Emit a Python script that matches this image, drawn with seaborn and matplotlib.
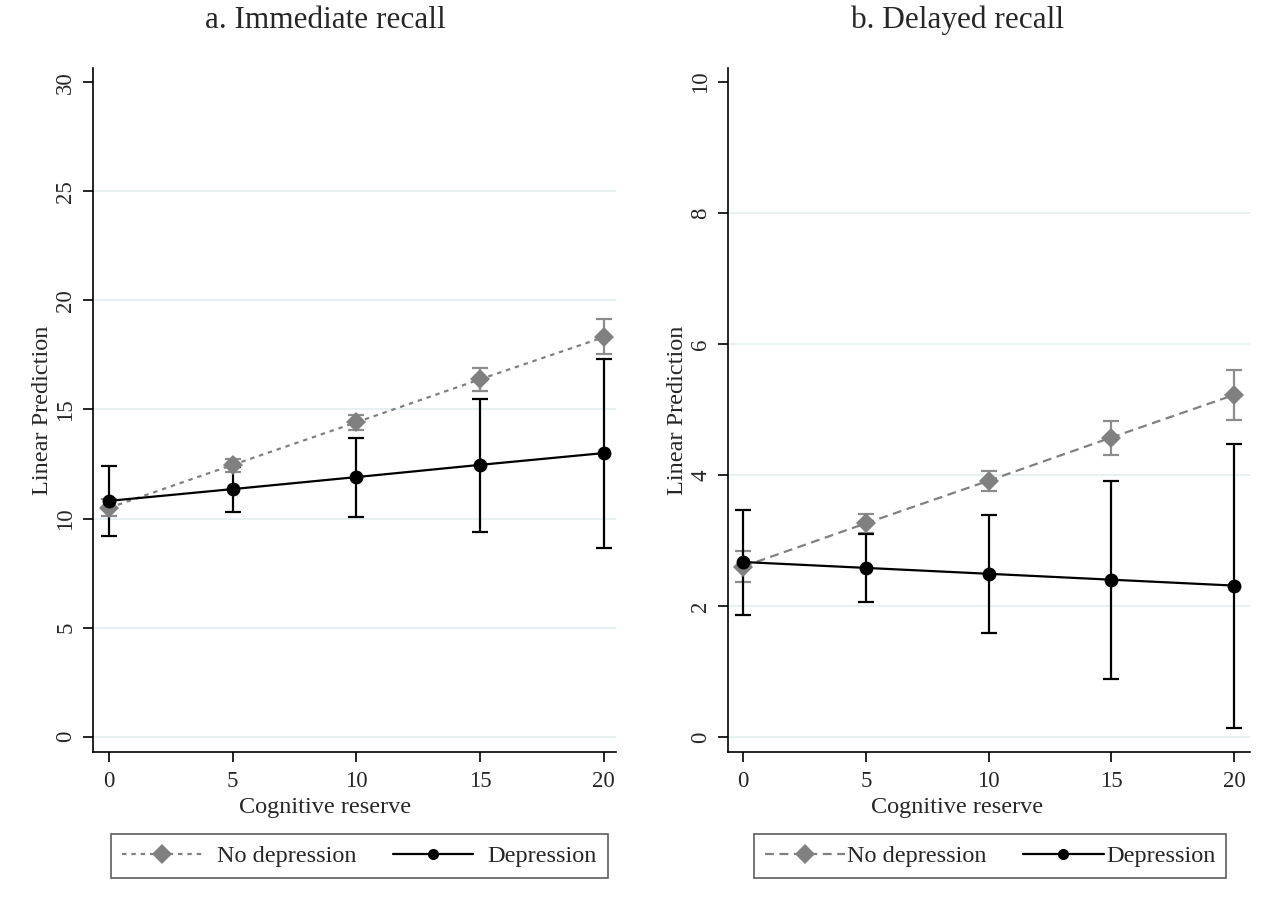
"""Margins plot: predicted recall by cognitive reserve and depression status."""
import pandas as pd
import matplotlib.pyplot as plt
from matplotlib.lines import Line2D
import seaborn as sns

# x values (cognitive reserve)
reserve = [0, 5, 10, 15, 20]

# a. Immediate recall
imm_nodep = [10.49, 12.46, 14.41, 16.38, 18.31]
imm_nodep_lo = [10.10, 12.15, 14.06, 15.85, 17.53]
imm_nodep_hi = [10.90, 12.72, 14.75, 16.90, 19.13]
imm_dep = [10.81, 11.35, 11.90, 12.46, 13.00]
imm_dep_lo = [9.19, 10.32, 10.09, 9.40, 8.64]
imm_dep_hi = [12.43, 12.38, 13.71, 15.50, 17.33]

# b. Delayed recall
del_nodep = [2.60, 3.26, 3.91, 4.57, 5.22]
del_nodep_lo = [2.37, 3.11, 3.76, 4.31, 4.84]
del_nodep_hi = [2.84, 3.40, 4.06, 4.82, 5.60]
del_dep = [2.67, 2.58, 2.49, 2.40, 2.31]
del_dep_lo = [1.86, 2.06, 1.58, 0.88, 0.14]
del_dep_hi = [3.47, 3.09, 3.39, 3.91, 4.47]

titles = ['a. Immediate recall', 'b. Delayed recall']
group_labels = ['No depression', 'Depression']
y_ticks = [[0, 5, 10, 15, 20, 25, 30], [0, 2, 4, 6, 8, 10]]
x_ticks = [0, 5, 10, 15, 20]

sns.set_style('white')
plt.rcParams['font.family'] = ['Liberation Serif', 'DejaVu Serif']

GRAY = '#808080'
GRAY_CI = '#8c8c8c'
GRID = '#e6eff1'

fig = plt.figure(figsize=(12.67, 9.02), dpi=100)
ax_a = fig.add_axes([0.0734, 0.1663, 0.4127, 0.7583])
ax_b = fig.add_axes([0.5746, 0.1663, 0.4120, 0.7583])

# Stata centres titles over the whole subgraph, a little left of the plot region
panels = [
    (ax_a, imm_nodep, imm_nodep_lo, imm_nodep_hi, imm_dep, imm_dep_lo, imm_dep_hi,
     (-0.65, 20.5), (-0.7, 30.65), (0, (2, 2.2)), 0.6, 0.444, 0.51),
    (ax_b, del_nodep, del_nodep_lo, del_nodep_hi, del_dep, del_dep_lo, del_dep_hi,
     (-0.61, 20.65), (-0.23, 10.21), (0, (4, 2.5)), 0.1, 0.439, 0.502),
]

for i, (ax, nd, nd_lo, nd_hi, d, d_lo, d_hi, xlim, ylim, dash, txtpad, tx, lx) in enumerate(panels):
    df = pd.DataFrame({
        'reserve': reserve * 2,
        'pred': nd + d,
        'lo': nd_lo + d_lo,
        'hi': nd_hi + d_hi,
        'group': [group_labels[0]] * 5 + [group_labels[1]] * 5,
    })

    # gridlines (not at the top tick)
    for t in y_ticks[i][:-1]:
        ax.axhline(t, color=GRID, lw=1.3, zorder=0)

    styles = {group_labels[0]: (GRAY, GRAY_CI, 'D', 10.5, dash),
              group_labels[1]: ('black', 'black', 'o', 10, '-')}
    for g, sub in df.groupby('group', sort=False):
        col, ci_col, mk, ms, ls = styles[g]
        ax.errorbar(sub['reserve'], sub['pred'],
                    yerr=[sub['pred'] - sub['lo'], sub['hi'] - sub['pred']],
                    fmt='none', ecolor=ci_col, elinewidth=1.6, capsize=6, capthick=1.6, zorder=2)
        sns.lineplot(data=sub, x='reserve', y='pred', ax=ax, color=col, marker=mk,
                     markersize=ms, markeredgewidth=0, linestyle=ls, linewidth=1.6,
                     errorbar=None, zorder=3)

    ax.set_xlim(*xlim)
    ax.set_ylim(*ylim)
    ax.set_xticks(x_ticks)
    ax.set_yticks(y_ticks[i])
    ax.tick_params(axis='both', direction='out', length=7, width=1.2, color='black',
                   labelsize=16.5, left=True, bottom=True)
    ax.tick_params(axis='x', pad=7)
    ax.tick_params(axis='y', pad=5)
    for lab in ax.get_yticklabels():
        lab.set_rotation(90)
        lab.set_va('center')
    for side in ['top', 'right']:
        ax.spines[side].set_visible(False)
    for side in ['left', 'bottom']:
        ax.spines[side].set_color('black')
        ax.spines[side].set_linewidth(1.2)

    ax.set_xlabel('Cognitive reserve', fontsize=17.5, labelpad=3, x=tx)
    ax.set_ylabel('Linear Prediction', fontsize=17.5, labelpad=2)
    ax.set_title(titles[i], fontsize=22.5, pad=28.5, x=tx)

    handles = [
        Line2D([], [], color=GRAY, linestyle=dash, lw=1.6, marker='D', markersize=10,
               markeredgewidth=0),
        Line2D([], [], color='black', linestyle='-', lw=1.6, marker='o', markersize=8,
               markeredgewidth=0),
    ]
    leg = ax.legend(handles, group_labels, loc='upper center', bbox_to_anchor=(lx, -0.12),
                    ncol=2, fontsize=17.5, frameon=True, fancybox=False, handlelength=3.3,
                    columnspacing=1.5, handletextpad=txtpad, borderpad=0.45, borderaxespad=0)
    leg.get_frame().set_edgecolor('#333333')
    leg.get_frame().set_linewidth(1.2)

fig.savefig('out.png', dpi=100)
